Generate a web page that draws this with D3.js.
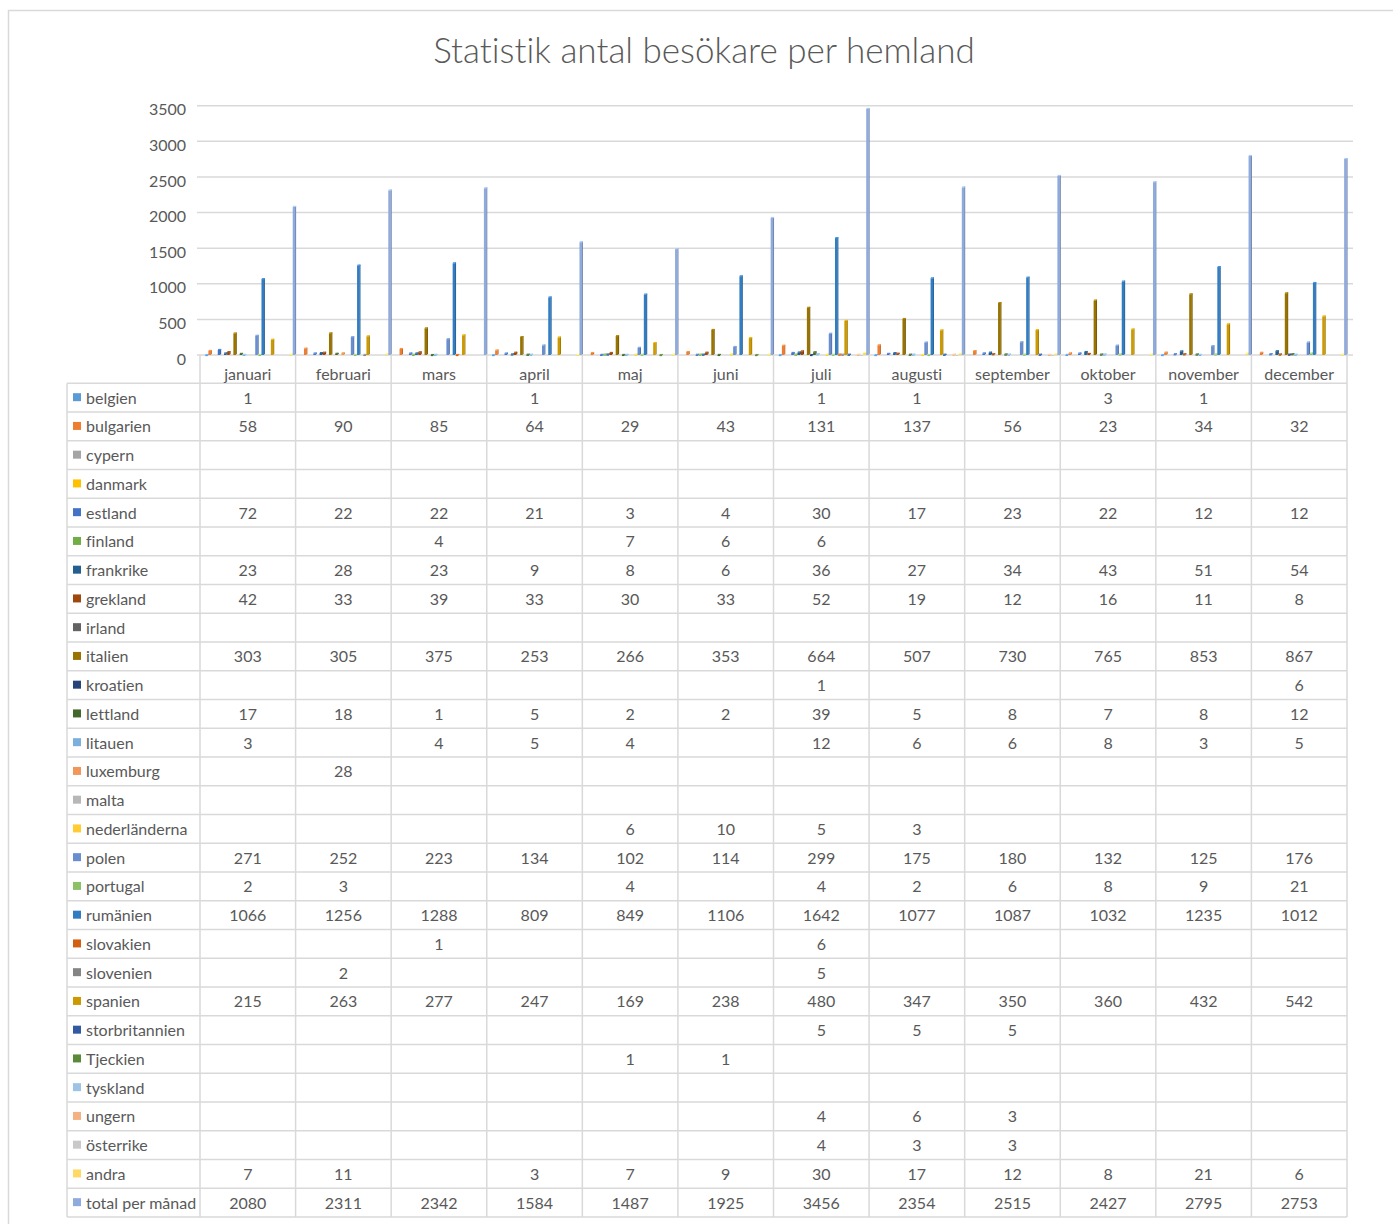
<!DOCTYPE html>
<html><head><meta charset="utf-8">
<script src="https://cdn.jsdelivr.net/npm/d3@7"></script>
<style>
html,body{margin:0;padding:0;background:#fff;}
svg{display:block;font-family:Lato,"Open Sans",sans-serif;font-variant-ligatures:none;font-feature-settings:"liga" 0,"clig" 0;}
</style></head>
<body>
<svg id="chart" width="1393" height="1224"></svg>
<script>
const title = "Statistik antal besökare per hemland";
const months = ["januari","februari","mars","april","maj","juni","juli","augusti","september","oktober","november","december"];
const yTicks = [0,500,1000,1500,2000,2500,3000,3500];
const _ = null;

const belgien        = [1,_,_,1,_,_,1,1,_,3,1,_];
const bulgarien      = [58,90,85,64,29,43,131,137,56,23,34,32];
const cypern         = [_,_,_,_,_,_,_,_,_,_,_,_];
const danmark        = [_,_,_,_,_,_,_,_,_,_,_,_];
const estland        = [72,22,22,21,3,4,30,17,23,22,12,12];
const finland        = [_,_,4,_,7,6,6,_,_,_,_,_];
const frankrike      = [23,28,23,9,8,6,36,27,34,43,51,54];
const grekland       = [42,33,39,33,30,33,52,19,12,16,11,8];
const irland         = [_,_,_,_,_,_,_,_,_,_,_,_];
const italien        = [303,305,375,253,266,353,664,507,730,765,853,867];
const kroatien       = [_,_,_,_,_,_,1,_,_,_,_,6];
const lettland       = [17,18,1,5,2,2,39,5,8,7,8,12];
const litauen        = [3,_,4,5,4,_,12,6,6,8,3,5];
const luxemburg      = [_,28,_,_,_,_,_,_,_,_,_,_];
const malta          = [_,_,_,_,_,_,_,_,_,_,_,_];
const nederlanderna  = [_,_,_,_,6,10,5,3,_,_,_,_];
const polen          = [271,252,223,134,102,114,299,175,180,132,125,176];
const portugal       = [2,3,_,_,4,_,4,2,6,8,9,21];
const rumanien       = [1066,1256,1288,809,849,1106,1642,1077,1087,1032,1235,1012];
const slovakien      = [_,_,1,_,_,_,6,_,_,_,_,_];
const slovenien      = [_,2,_,_,_,_,5,_,_,_,_,_];
const spanien        = [215,263,277,247,169,238,480,347,350,360,432,542];
const storbritannien = [_,_,_,_,_,_,5,5,5,_,_,_];
const tjeckien       = [_,_,_,_,1,1,_,_,_,_,_,_];
const tyskland       = [_,_,_,_,_,_,_,_,_,_,_,_];
const ungern         = [_,_,_,_,_,_,4,6,3,_,_,_];
const osterrike      = [_,_,_,_,_,_,4,3,3,_,_,_];
const andra          = [7,11,_,3,7,9,30,17,12,8,21,6];
const totalPerManad  = [2080,2311,2342,1584,1487,1925,3456,2354,2515,2427,2795,2753];

const seriesNames = ["belgien","bulgarien","cypern","danmark","estland","finland","frankrike","grekland","irland","italien","kroatien","lettland","litauen","luxemburg","malta","nederländerna","polen","portugal","rumänien","slovakien","slovenien","spanien","storbritannien","Tjeckien","tyskland","ungern","österrike","andra","total per månad"];
const seriesValues = [belgien,bulgarien,cypern,danmark,estland,finland,frankrike,grekland,irland,italien,kroatien,lettland,litauen,luxemburg,malta,nederlanderna,polen,portugal,rumanien,slovakien,slovenien,spanien,storbritannien,tjeckien,tyskland,ungern,osterrike,andra,totalPerManad];
const seriesColors = ["#5B9BD5","#ED7D31","#A5A5A5","#FFC000","#4472C4","#70AD47","#255E91","#9E480E","#636363","#997300","#264478","#43682B","#7CAFDD","#F1975A","#B7B7B7","#FFCD33","#698ED0","#8CC168","#327DC2","#D26012","#848484","#CC9A00","#335AA1","#5A8A39","#9DC3E6","#F4B183","#C9C9C9","#FFD966","#8FAADC"];

const series = seriesNames.map((n,i)=>({name:n, values:seriesValues[i], color:seriesColors[i], idx:i}));

const svg = d3.select("#chart");
const textColor = "#595959";
const lineColor = "#d9d9d9";

// outer frame
svg.append("rect").attr("x",8.5).attr("y",10.5).attr("width",1420).attr("height",1240)
  .attr("fill","none").attr("stroke",lineColor).attr("stroke-width",1.5);

// title
svg.append("text").attr("x",704).attr("y",63).attr("text-anchor","middle")
  .attr("font-size",35).attr("font-weight",300).attr("fill",textColor).text(title);

const plotLeft = 200, plotRight = 1347;
const x0 = d3.scaleBand().domain(months).range([plotLeft, plotRight]).padding(0);
const x1 = d3.scaleBand().domain(seriesNames).range([5, x0.bandwidth()]).padding(0);
const y = d3.scaleLinear().domain([0,3500]).range([355,105.7]);

// gridlines
svg.append("g").selectAll("line").data(yTicks).join("line")
  .attr("x1",197).attr("x2",1353)
  .attr("y1",d=>y(d)).attr("y2",d=>y(d))
  .attr("stroke",lineColor).attr("stroke-width",1.5);

// y axis labels
const yAxis = d3.axisLeft(y).tickValues(yTicks).tickSize(0).tickPadding(0).tickFormat(d3.format("d"));
const ya = svg.append("g").attr("transform","translate(186,3.5)").call(yAxis);
ya.select(".domain").remove();
ya.selectAll("text").attr("font-size",16).attr("fill",textColor).attr("font-family","Lato").attr("dy","0.35em");

// bars (simple 3D-ish columns)
const bw = 2.6;
const barG = svg.append("g");
series.forEach(s=>{
  const dark = d3.color(s.color).darker(0.8).formatHex();
  const light = d3.color(s.color).brighter(0.5).formatHex();
  const g = barG.append("g");
  const data = s.values.map((v,m)=>({v, m})).filter(d=>d.v!==null);
  const cx = d=> x0(months[d.m]) + x1(s.name) + x1.bandwidth()/2;
  g.selectAll("rect.side").data(data).join("rect").attr("class","side")
    .attr("x",d=>cx(d)+bw/2-0.3).attr("width",1.1)
    .attr("y",d=>y(d.v)-0.8).attr("height",d=>Math.max(0.8, y(0)-y(d.v)))
    .attr("fill",dark);
  g.selectAll("rect.front").data(data).join("rect").attr("class","front")
    .attr("x",d=>cx(d)-bw/2).attr("width",bw)
    .attr("y",d=>y(d.v)).attr("height",d=>Math.max(1.2, y(0)-y(d.v)))
    .attr("fill",s.color);
  g.selectAll("rect.top").data(data).join("rect").attr("class","top")
    .attr("x",d=>cx(d)-bw/2+0.3).attr("width",bw+0.5)
    .attr("y",d=>y(d.v)-1).attr("height",1.2)
    .attr("fill",light);
});

// data table
const rowTop = 383.3, rowH = 28.75;
const tableLeft = 67;
const nRows = series.length;
const tableBottom = rowTop + nRows*rowH;
const yRow = d3.scaleBand().domain(seriesNames).range([rowTop, tableBottom]).padding(0);

const tg = svg.append("g");
const hLines = d3.range(nRows+1).map(i=>rowTop + i*rowH);
tg.selectAll("line.h").data(hLines).join("line").attr("class","h")
  .attr("x1",tableLeft).attr("x2",plotRight)
  .attr("y1",d=>d).attr("y2",d=>d)
  .attr("stroke",lineColor).attr("stroke-width",1.5);
const vLines = months.map(m=>x0(m)).concat([plotRight]);
tg.selectAll("line.v").data(vLines).join("line").attr("class","v")
  .attr("x1",d=>d).attr("x2",d=>d).attr("y1",y(0)).attr("y2",tableBottom)
  .attr("stroke",lineColor).attr("stroke-width",1.5);
tg.append("line").attr("x1",tableLeft).attr("x2",tableLeft).attr("y1",rowTop).attr("y2",tableBottom)
  .attr("stroke",lineColor).attr("stroke-width",1.5);

tg.selectAll("text.month").data(months).join("text").attr("class","month")
  .attr("x",d=>x0(d)+x0.bandwidth()/2).attr("y",rowTop-3.5)
  .attr("text-anchor","middle").attr("font-size",16).attr("fill",textColor).text(d=>d);

const rows = tg.selectAll("g.row").data(series).join("g").attr("class","row")
  .attr("transform",d=>`translate(0,${yRow(d.name)})`);
rows.append("rect").attr("x",73).attr("y",rowH/2-4.5).attr("width",8).attr("height",8)
  .attr("fill",d=>d.color);
rows.append("text").attr("x",86).attr("y",rowH/2+6).attr("font-size",16)
  .attr("fill",textColor).text(d=>d.name);
rows.each(function(s){
  const vals = s.values.map((v,m)=>({v,m})).filter(d=>d.v!==null);
  d3.select(this).selectAll("text.val").data(vals).join("text").attr("class","val")
    .attr("x",d=>x0(months[d.m])+x0.bandwidth()/2).attr("y",rowH/2+6)
    .attr("text-anchor","middle").attr("font-size",16).attr("fill",textColor)
    .text(d=>d.v);
});
</script>
</body></html>
